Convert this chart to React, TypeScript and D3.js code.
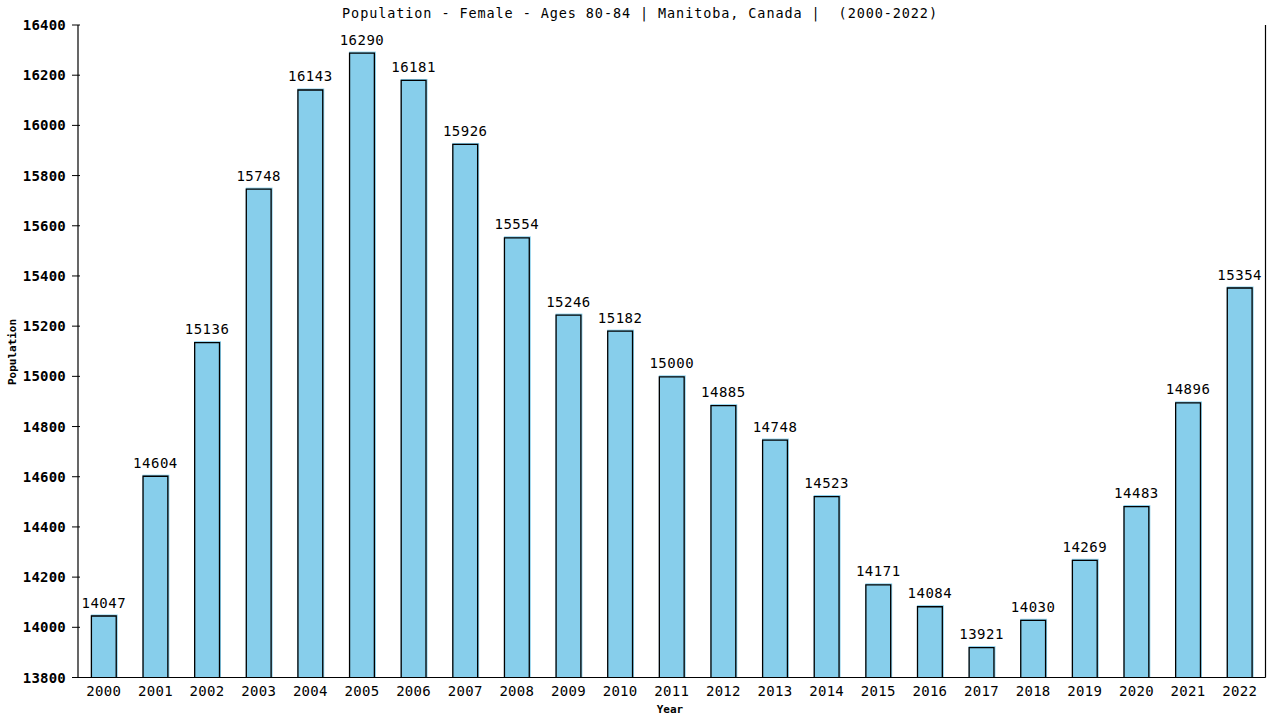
import * as d3 from "d3";

const years = [
  "2000", "2001", "2002", "2003", "2004", "2005", "2006", "2007", "2008",
  "2009", "2010", "2011", "2012", "2013", "2014", "2015", "2016", "2017",
  "2018", "2019", "2020", "2021", "2022",
];
const population = [
  14047, 14604, 15136, 15748, 16143, 16290, 16181, 15926, 15554, 15246, 15182,
  15000, 14885, 14748, 14523, 14171, 14084, 13921, 14030, 14269, 14483, 14896,
  15354,
];
const yTicks = [
  13800, 14000, 14200, 14400, 14600, 14800, 15000, 15200, 15400, 15600, 15800,
  16000, 16200, 16400,
];
const title = "Population - Female - Ages 80-84 | Manitoba, Canada |  (2000-2022)";

const W = 1280;
const H = 720;
const left = 78;
const right = 1265.5;
const top = 25;
const bottom = 677.5;
const font = "'DejaVu Sans Mono', monospace";

const App = () => {
  const x = d3.scaleBand<string>().domain(years).range([left, right]).paddingInner(0.5).paddingOuter(0.25);
  const y = d3.scaleLinear().domain([13800, 16400]).range([bottom, top]);
  const bw = x.bandwidth();

  return (
    <svg
      width={W}
      height={H}
      viewBox={`0 0 ${W} ${H}`}
      style={{ position: "absolute", left: 0, top: 0, background: "#fff" }}
    >
      <text
        x={640}
        y={18}
        textAnchor="middle"
        fontFamily={font}
        fontSize={13.5}
        letterSpacing={0.9}
        fill="#000"
        style={{ whiteSpace: "pre" }}
      >
        {title}
      </text>

      {years.map((yr, i) => {
        const bx = x(yr) ?? 0;
        const by = y(population[i]) - 1;
        return (
          <g key={yr}>
            <rect x={bx} y={by} width={bw + 1} height={bottom - by} fill="#87CEEB" />
            <path
              d={`M${bx + 0.5},${bottom} V${by + 1.5} H${bx + bw - 0.5} V${bottom}`}
              fill="none"
              stroke="#000"
              strokeWidth={1.3}
            />
            <text
              x={bx + bw / 2}
              y={by - 7}
              textAnchor="middle"
              fontFamily={font}
              fontSize={14}
              letterSpacing={0.5}
              fill="#000"
            >
              {population[i]}
            </text>
            <text
              x={bx + bw / 2}
              y={696}
              textAnchor="middle"
              fontFamily={font}
              fontSize={14}
              letterSpacing={0.3}
              fill="#000"
            >
              {yr}
            </text>
          </g>
        );
      })}

      {yTicks.map((t) => (
        <g key={t}>
          <line x1={left - 6} x2={left + 2} y1={y(t)} y2={y(t)} stroke="#000" strokeWidth={1} />
          <text
            x={left - 12}
            y={y(t) + 5}
            textAnchor="end"
            fontFamily={font}
            fontSize={14}
            fontWeight="bold"
            letterSpacing={0.2}
            fill="#000"
          >
            {t}
          </text>
        </g>
      ))}

      <line x1={left} x2={left} y1={top} y2={bottom} stroke="#000" strokeWidth={1.2} />
      <line x1={right} x2={right} y1={top} y2={bottom} stroke="#000" strokeWidth={1.2} />
      <line x1={left} x2={right} y1={bottom} y2={bottom} stroke="#000" strokeWidth={1.2} />

      <text
        x={670}
        y={713}
        textAnchor="middle"
        fontFamily={font}
        fontSize={11}
        fontWeight="bold"
        fill="#000"
      >
        Year
      </text>
      <text
        transform={`translate(16, 352) rotate(-90)`}
        textAnchor="middle"
        fontFamily={font}
        fontSize={11}
        fontWeight="bold"
        fill="#000"
      >
        Population
      </text>
    </svg>
  );
};

export default App;
